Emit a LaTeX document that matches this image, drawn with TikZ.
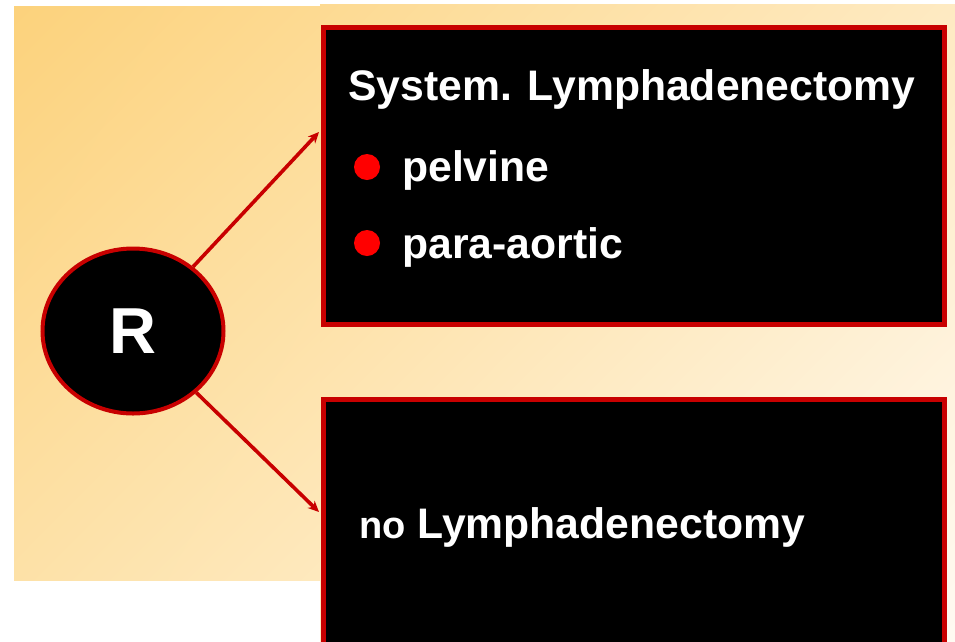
\documentclass[tikz,border=0pt]{standalone}
\usepackage{fontspec}
\setmainfont{Liberation Sans}
\usetikzlibrary{arrows.meta,shapes.geometric,shadings}
\definecolor{bordred}{RGB}{200,0,0}
\definecolor{bullred}{RGB}{255,0,0}
\definecolor{gA}{RGB}{252,210,124}
\definecolor{gB}{RGB}{253,218,146}
\definecolor{gC}{RGB}{253,225,167}
\definecolor{gD}{RGB}{254,233,190}
\definecolor{gE}{RGB}{254,234,194}
\definecolor{gF}{RGB}{255,250,242}
\begin{document}
\begin{tikzpicture}[x=1pt,y=-1pt,
  bigtxt/.style={font=\fontsize{42.7}{50}\selectfont\bfseries, text=white, inner sep=0pt, anchor=base west},
  box/.style={draw=bordred, fill=black, line width=5pt, minimum width=621pt, inner sep=0pt},
  arr/.style={draw=bordred, line width=3.6pt, -{Stealth[length=11pt,width=10pt]}},
  bulletdot/.style={circle, fill=bullred, minimum size=26pt, inner sep=0pt},
  rnode/.style={ellipse, draw=bordred, fill=black, line width=4pt, minimum width=181pt, minimum height=165pt, inner sep=0pt, text=white, font=\fontsize{65}{70}\selectfont\bfseries}]
\clip (0,0) rectangle (955,641);
\fill[white] (0,0) rectangle (955,641);
\shade[upper left=gA, upper right=gB, lower left=gC, lower right=gD] (14,6) rectangle (320,580);
\shade[upper left=gB, upper right=gE, lower left=gE, lower right=gF] (320,4) rectangle (955,641);
% boxes
\node[box, minimum height=297pt] (top) at (634,176) {};
\node[box, minimum height=258pt] (bot) at (634,528.5) {};
% circle
\node[rnode] (R) at (133,331) {R};
% arrow ends
\coordinate (t1) at (319,132);
\coordinate (t2) at (319,512);
\draw[arr] (R) -- (t1);
\draw[arr] (R) -- (t2);
% texts
\node[bigtxt] (title) at (348,100) {System. Lymphadenectomy};
\node[bulletdot] (b1) at (367,167) {};
\node[bulletdot] (b2) at (367,243) {};
\node[bigtxt] (pel) at (402,181) {pelvine};
\node[bigtxt] (para) at (402,258) {para-aortic};
\node[bigtxt] (nolym) at (359,538) {{\fontsize{38}{40}\selectfont no} Lymphadenectomy};
\end{tikzpicture}
\end{document}
